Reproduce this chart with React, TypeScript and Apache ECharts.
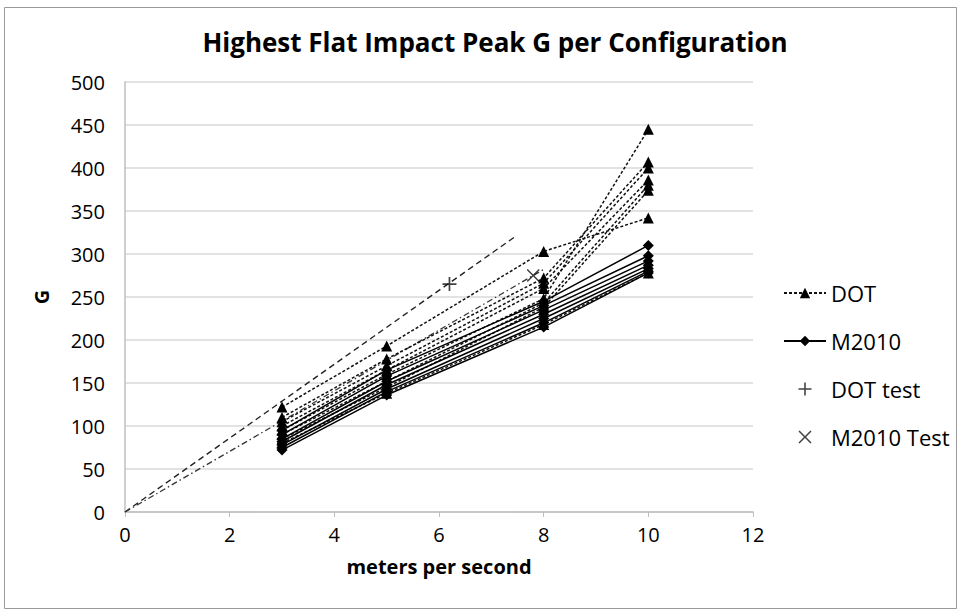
import React, { useEffect, useRef } from "react";
import * as echarts from "echarts";

const titleText = "Highest Flat Impact Peak G per Configuration";
const speeds = [3, 5, 8, 10];

const dotValues: number[][] = [
  [122, 193, 303, 342],
  [110, 178, 272, 407],
  [105, 170, 266, 400],
  [100, 165, 260, 386],
  [95, 160, 248, 445],
  [90, 152, 243, 380],
  [85, 145, 238, 374],
  [80, 138, 218, 278],
];

const m2010Values: number[][] = [
  [95, 165, 245, 310],
  [90, 158, 240, 298],
  [85, 152, 235, 292],
  [82, 148, 230, 287],
  [78, 143, 225, 283],
  [75, 140, 220, 280],
  [72, 136, 215, 278],
];

const dotTestPoints = [[6.2, 265]];
const m2010TestPoints = [[7.8, 275]];
const dotTrendLine = [[0, 0], [7.45, 320]];
const m2010TrendLine = [[0, 0], [8, 282]];

const legendNames = ["DOT", "M2010", "DOT test", "M2010 Test"];
const FONT = "'Open Sans', 'Liberation Sans', sans-serif";

const plusPath = "path://M4.4,0H5.6V4.4H10V5.6H5.6V10H4.4V5.6H0V4.4H4.4Z";
const crossPath =
  "path://M0.8,0L5,4.2L9.2,0L10,0.8L5.8,5L10,9.2L9.2,10L5,5.8L0.8,10L0,9.2L4.2,5L0,0.8Z";

export default function App() {
  const ref = useRef<HTMLDivElement>(null);
  useEffect(() => {
    if (!ref.current) return;
    const chart = echarts.init(ref.current, undefined, { renderer: "svg" });
    const series: any[] = [];
    dotValues.forEach((vals) => {
      series.push({
        name: "DOT",
        type: "line",
        data: speeds.map((s, j) => [s, vals[j]]),
        symbol: "triangle",
        symbolSize: 11,
        itemStyle: { color: "#000" },
        lineStyle: { color: "#111", width: 1.5, type: [3, 2] },
        z: 3,
      });
    });
    m2010Values.forEach((vals) => {
      series.push({
        name: "M2010",
        type: "line",
        data: speeds.map((s, j) => [s, vals[j]]),
        symbol: "diamond",
        symbolSize: 11,
        itemStyle: { color: "#000" },
        lineStyle: { color: "#000", width: 1.5, type: "solid" },
        z: 3,
      });
    });
    series.push({
      name: "DOT test",
      type: "scatter",
      data: dotTestPoints,
      symbol: plusPath,
      symbolSize: 14,
      itemStyle: { color: "#111" },
      z: 4,
    });
    series.push({
      name: "M2010 Test",
      type: "scatter",
      data: m2010TestPoints,
      symbol: crossPath,
      symbolSize: 13,
      itemStyle: { color: "#111" },
      z: 4,
    });
    series.push({
      name: "dotTrend",
      type: "line",
      data: dotTrendLine,
      symbol: "none",
      lineStyle: { color: "#222", width: 1.4, type: [6, 4] },
      z: 2,
    });
    series.push({
      name: "m2010Trend",
      type: "line",
      data: m2010TrendLine,
      symbol: "none",
      lineStyle: { color: "#333", width: 1.3, type: [6, 3, 1.5, 3] },
      z: 2,
    });

    chart.setOption({
      animation: false,
      backgroundColor: "#fff",
      title: {
        text: titleText,
        left: 490,
        textAlign: "center",
        top: 24,
        textStyle: { fontFamily: FONT, fontSize: 26, fontWeight: "bold", color: "#000" },
      },
      graphic: [
        {
          type: "rect",
          shape: { x: 4.5, y: 7.5, width: 952, height: 601 },
          style: { fill: "none", stroke: "#999", lineWidth: 1 },
          silent: true,
        },
      ],
      legend: {
        data: legendNames,
        orient: "vertical",
        left: 778,
        top: 277,
        itemWidth: 42,
        itemHeight: 13,
        itemGap: 26,
        textStyle: { fontFamily: FONT, fontSize: 22, color: "#000" },
      },
      grid: { left: 125, right: 205, top: 82, bottom: 98 },
      xAxis: {
        type: "value",
        min: 0,
        max: 12,
        interval: 2,
        name: "meters per second",
        nameLocation: "middle",
        nameGap: 44,
        nameTextStyle: { fontFamily: FONT, fontSize: 20, fontWeight: "bold", color: "#000" },
        axisLine: { show: true, lineStyle: { color: "#bfbfbf", width: 1.5 } },
        axisTick: { show: true, length: 5, lineStyle: { color: "#bfbfbf" } },
        axisLabel: { fontFamily: FONT, fontSize: 20, color: "#000", margin: 12 },
        splitLine: { show: false },
      },
      yAxis: {
        type: "value",
        min: 0,
        max: 500,
        interval: 50,
        name: "G",
        nameLocation: "middle",
        nameGap: 74,
        nameRotate: 90,
        nameTextStyle: { fontFamily: FONT, fontSize: 20, fontWeight: "bold", color: "#000" },
        axisLine: { show: true, lineStyle: { color: "#bfbfbf", width: 1.5 } },
        axisTick: { show: false },
        axisLabel: { fontFamily: FONT, fontSize: 20, color: "#000", margin: 20 },
        splitLine: { show: true, lineStyle: { color: "#d9d9d9", width: 1.5 } },
      },
      series,
    });
    return () => chart.dispose();
  }, []);
  return (
    <div
      ref={ref}
      style={{ position: "fixed", left: 0, top: 0, width: 958, height: 610, background: "#fff" }}
    />
  );
}
